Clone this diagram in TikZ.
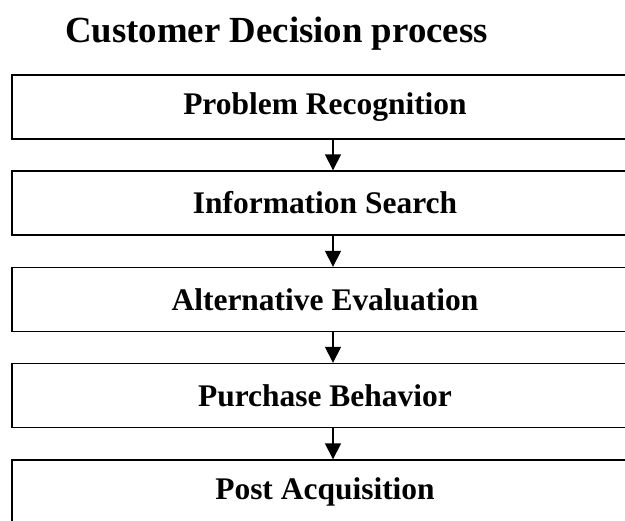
\documentclass[tikz,border=0pt]{standalone}
\usepackage{fontspec}
\setmainfont{Liberation Serif}
\usetikzlibrary{arrows.meta}
\begin{document}
\begin{tikzpicture}[x=0.75pt,y=-0.75pt,
  stagebox/.style={draw,line width=1pt,rectangle,minimum width=469.5pt,minimum height=48pt,inner sep=0pt,font=\fontsize{23.6}{28}\selectfont\bfseries},
  flow/.style={line width=1pt,-{Triangle[width=12pt,length=12pt]}}]
\useasboundingbox (0,0) rectangle (625,521);
\clip (0,0) rectangle (625,521);
\node[anchor=base west,inner sep=0pt,font=\fontsize{27.6}{32}\selectfont\bfseries] (title) at (65,42) {Customer Decision process};
\node[stagebox] (b1) at (325,107) {Problem Recognition};
\node[stagebox] (b2) at (325,203) {Information Search};
\node[stagebox] (b3) at (325,299.5) {Alternative Evaluation};
\node[stagebox] (b4) at (325,395.5) {Purchase Behavior};
\node[stagebox] (b5) at (325,492) {Post Acquisition};
\foreach \a/\b in {b1/b2,b2/b3,b3/b4,b4/b5}
  \draw[flow] ([xshift=6pt]\a.south) -- ([xshift=6pt]\b.north);
\end{tikzpicture}
\end{document}
